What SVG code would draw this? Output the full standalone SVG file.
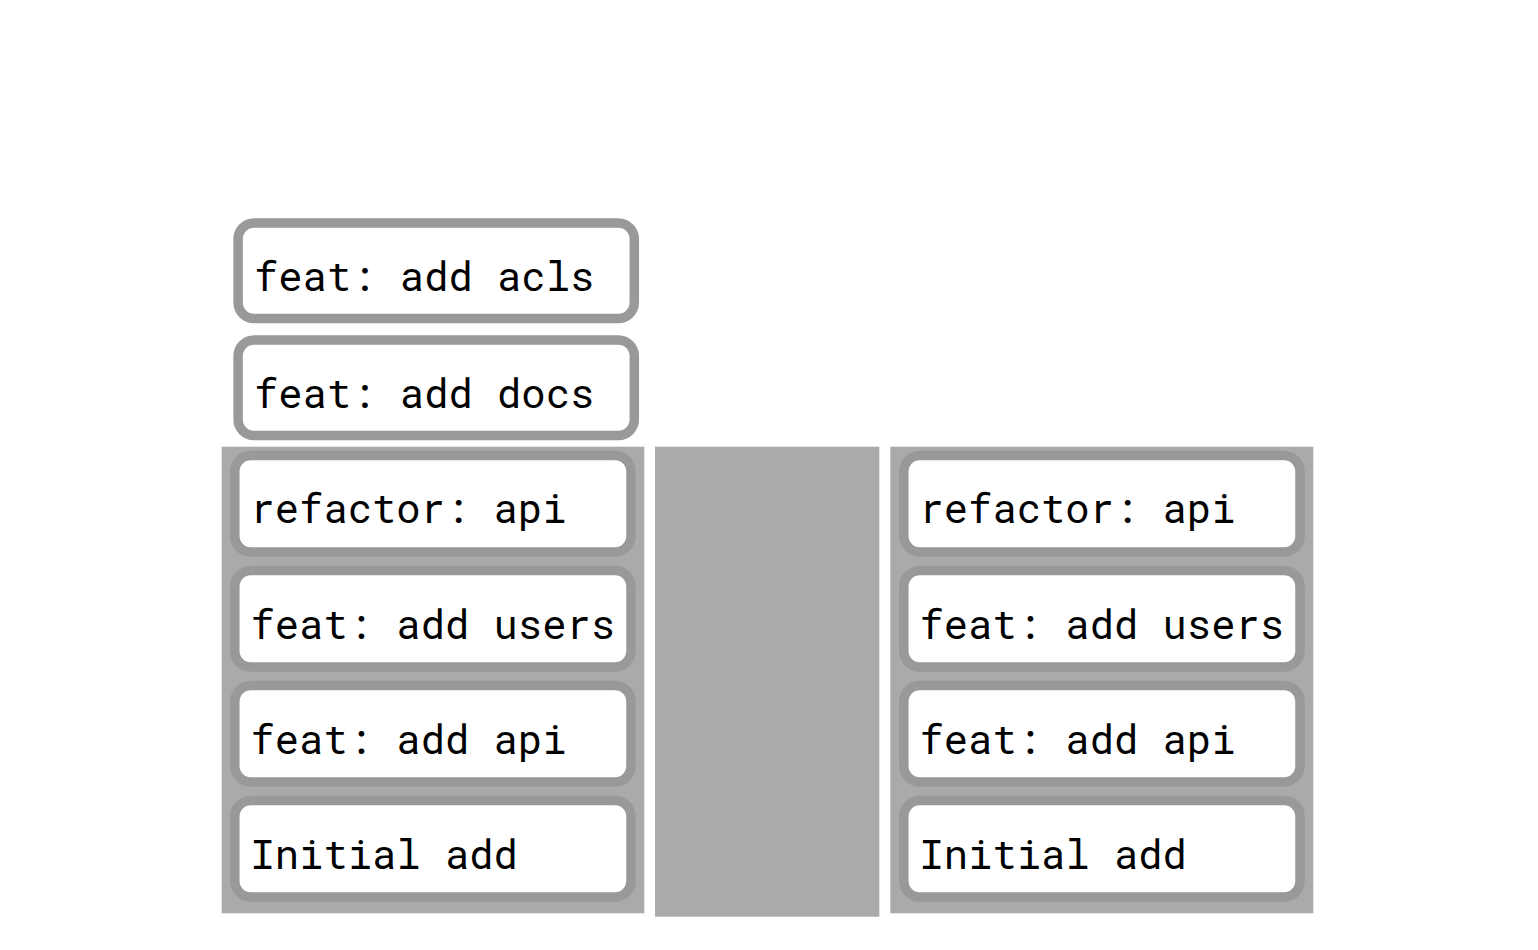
<svg xmlns="http://www.w3.org/2000/svg" width="1538" height="950" viewBox="0 0 1538 950">
<style>
.bg{fill:#ffffff}
.container{fill:#aaaaaa}
.node rect{fill:#ffffff;stroke:#999999;stroke-width:9.5}
.node text{font-family:"Roboto Mono","DejaVu Sans Mono","Liberation Mono",monospace;font-size:40.5px;fill:#000000}
</style>
<rect class="bg" x="0" y="0" width="1538" height="950"/>
<g id="containers">
<rect id="left-branch" class="container" x="221.7" y="446.7" width="422.6" height="466.6"/>
<rect id="middle-column" class="container" x="655" y="446.7" width="224.3" height="470"/>
<rect id="right-branch" class="container" x="890.3" y="446.7" width="423" height="466.6"/>
</g>
<g id="node-acls" class="node">
<rect x="238.1" y="223" width="396.2" height="95.6" rx="16"/>
<text x="254" y="290.7">feat: add acls</text>
</g>
<g id="node-docs" class="node">
<rect x="238.1" y="340" width="396.2" height="95.6" rx="16"/>
<text x="254" y="407.7">feat: add docs</text>
</g>
<g id="node-l-refactor" class="node">
<rect x="234.8" y="455.4" width="396.2" height="96.6" rx="16"/>
<text x="250.5" y="523.3">refactor: api</text>
</g>
<g id="node-l-users" class="node">
<rect x="234.8" y="570.5" width="396.2" height="96.6" rx="16"/>
<text x="250.5" y="639">feat: add users</text>
</g>
<g id="node-l-api" class="node">
<rect x="234.8" y="685.5" width="396.2" height="96.6" rx="16"/>
<text x="250.5" y="754">feat: add api</text>
</g>
<g id="node-l-initial" class="node">
<rect x="234.8" y="800.5" width="396.2" height="96.6" rx="16"/>
<text x="250.5" y="869">Initial add</text>
</g>
<g id="node-r-refactor" class="node">
<rect x="903.8" y="455.4" width="396.2" height="96.6" rx="16"/>
<text x="919.5" y="523.3">refactor: api</text>
</g>
<g id="node-r-users" class="node">
<rect x="903.8" y="570.5" width="396.2" height="96.6" rx="16"/>
<text x="919.5" y="639">feat: add users</text>
</g>
<g id="node-r-api" class="node">
<rect x="903.8" y="685.5" width="396.2" height="96.6" rx="16"/>
<text x="919.5" y="754">feat: add api</text>
</g>
<g id="node-r-initial" class="node">
<rect x="903.8" y="800.5" width="396.2" height="96.6" rx="16"/>
<text x="919.5" y="869">Initial add</text>
</g>
<g id="connectors"></g>
</svg>
